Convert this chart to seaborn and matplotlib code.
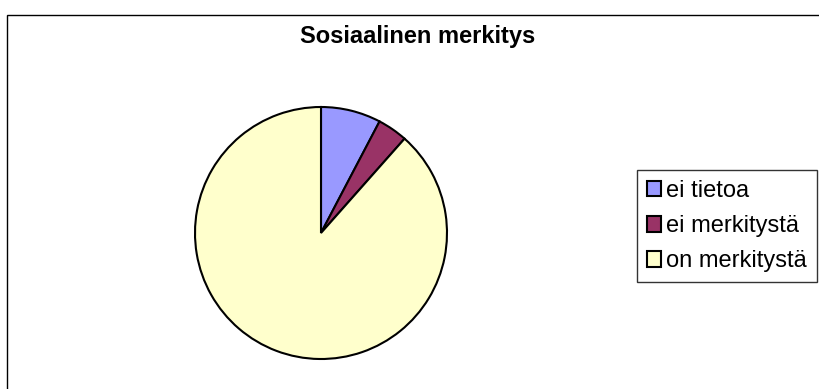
import matplotlib
matplotlib.use("Agg")
import matplotlib.pyplot as plt
import seaborn as sns
from matplotlib.patches import Rectangle

categories = ["ei tietoa", "ei merkitystä", "on merkitystä"]
values = [2, 1, 23]
colors = ["#9999FF", "#993366", "#FFFFCC"]
title = "Sosiaalinen merkitys"

sns.set_theme(style="white")
plt.rcParams["font.family"] = ["Liberation Sans", "DejaVu Sans"]
plt.rcParams["text.color"] = "black"

W, H = 819, 389
fig = plt.figure(figsize=(W / 100, H / 100), dpi=100)
fig.patch.set_facecolor("white")

# outer chart frame
fig.patches.append(Rectangle((7 / W, -0.05), 1.2, (H - 15) / H + 0.05,
                             transform=fig.transFigure, fill=False,
                             edgecolor="black", linewidth=1.0, clip_on=False))

cx, cy, r = 321, 233, 126
ax = fig.add_axes([(cx - r) / W, (H - cy - r) / H, 2 * r / W, 2 * r / H])
wedges, _ = ax.pie(values, colors=colors, startangle=90, counterclock=False,
                   radius=1.0,
                   wedgeprops=dict(edgecolor="black", linewidth=1.5))
ax.set_xlim(-1, 1)
ax.set_ylim(-1, 1)
ax.set_aspect("auto")
ax.axis("off")

fig.text(418 / W, 1 - 37 / H, title, ha="center", va="center",
         fontsize=17, fontweight="bold", color="black")

leg = fig.legend(wedges, categories, loc="upper left",
                 bbox_to_anchor=(637 / W, 1 - 170 / H),
                 frameon=True, fancybox=False, fontsize=17,
                 handlelength=0.59, handleheight=0.64, handletextpad=0.22,
                 labelspacing=0.56, borderpad=0.42, borderaxespad=0,
                 labelcolor="black")
leg.get_frame().set_edgecolor("black")
leg.get_frame().set_linewidth(1.0)
for h in leg.legend_handles:
    h.set_linewidth(1.5)

fig.savefig("out.png", dpi=100)
